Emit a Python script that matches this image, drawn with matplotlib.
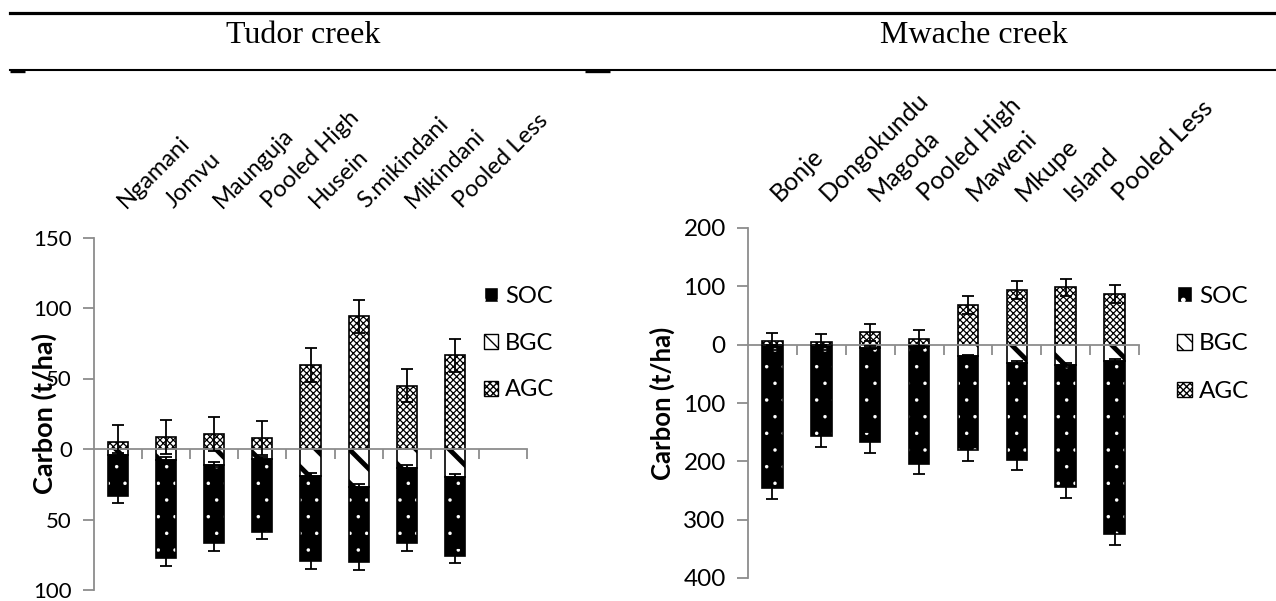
import matplotlib
matplotlib.use("Agg")
import matplotlib.pyplot as plt
import numpy as np
from matplotlib.patches import Patch
from matplotlib.lines import Line2D
from matplotlib.ticker import FuncFormatter
from matplotlib import transforms

# ---------------- data ----------------
tudor_sites = ["Ngamani", "Jomvu", "Maunguja", "Pooled High", "Husein",
               "S.mikindani", "Mikindani", "Pooled Less"]
tudor_agc = [5, 8.7, 10.6, 8, 59.8, 94, 45, 66.4]
tudor_agc_err = [11.8, 11.9, 11.8, 12, 12, 11.9, 12, 11.8]
tudor_bgc = [4, 8, 11, 7, 19, 27, 13.5, 20]
tudor_bgc_err = [1.5, 2, 2, 1.5, 2, 2.5, 2, 2]
tudor_soc = [29, 69.5, 56, 52, 60.6, 53.3, 53.5, 55.6]
tudor_soc_err = [5.3, 5.2, 5.5, 5, 5.2, 5.2, 5.5, 5.2]
tudor_yticks = [-100, -50, 0, 50, 100, 150]

mwache_sites = ["Bonje", "Dongokundu", "Magoda", "Pooled High", "Maweni",
                "Mkupe", "Island", "Pooled Less"]
mwache_agc = [5.6, 4, 21, 9.6, 68, 94, 98.6, 87]
mwache_agc_err = [14, 14, 14.5, 15, 15, 15, 14.5, 15]
mwache_bgc = [1, 1, 5, 3, 19, 31, 35, 28]
mwache_bgc_err = [1, 1, 2, 1.5, 2, 3, 3, 3]
mwache_soc = [245, 156, 162, 201, 162, 166, 209.5, 297]
mwache_soc_err = [19, 18, 18, 18.5, 19, 18, 18.5, 18.6]
mwache_yticks = [-400, -300, -200, -100, 0, 100, 200]

legend_labels = ["SOC", "BGC", "AGC"]
titles = ["Tudor creek", "Mwache creek"]

# ---------------- style ----------------
plt.rcParams['font.family'] = ['Lato', 'DejaVu Sans']
GREY = "#8c8c8c"
W, H = 1276, 601

fig = plt.figure(figsize=(W / 100, H / 100), dpi=100)


def fx(px):
    return px / W


def fy(py):
    return 1 - py / H


def set_hlw(container, lw):
    for p in container.patches:
        if hasattr(p, "set_hatch_linewidth"):
            p.set_hatch_linewidth(lw)


def draw(ax, sites, agc, agc_err, bgc, bgc_err, soc, soc_err, nslots,
         yticks, label_dy, ylab_x, fs, lab_fs, ylab_fs):
    agc = np.asarray(agc, float)
    bgc = np.asarray(bgc, float)
    soc = np.asarray(soc, float)
    x = np.arange(len(sites)) + 0.5
    w = 0.42
    with plt.rc_context({'hatch.linewidth': 0.1}):
        b = ax.bar(x, -soc, w, bottom=-bgc, color="black", edgecolor="white",
                   hatch=".", linewidth=0, zorder=2)
    set_hlw(b, 0.1)
    ax.bar(x, -soc, w, bottom=-bgc, fill=False, edgecolor="black",
           linewidth=1.2, zorder=3)
    with plt.rc_context({'hatch.linewidth': 3.5}):
        b = ax.bar(x, -bgc, w, color="white", edgecolor="black", hatch="\\",
                   linewidth=1.2, zorder=2)
    set_hlw(b, 3.5)
    with plt.rc_context({'hatch.linewidth': 0.9}):
        b = ax.bar(x, agc, w, color="white", edgecolor="black",
                   hatch="xxxxx", linewidth=1.2, zorder=2)
    set_hlw(b, 0.9)
    ekw = dict(fmt="none", ecolor="black", elinewidth=1.3, capsize=4,
               capthick=1.3, zorder=4)
    ax.errorbar(x, agc, yerr=agc_err, **ekw)
    ax.errorbar(x, -bgc, yerr=bgc_err, **ekw)
    ax.errorbar(x, -(bgc + soc), yerr=soc_err, **ekw)

    ax.set_xlim(0, nslots)
    ax.set_ylim(yticks[0], yticks[-1])
    ax.set_yticks(yticks)
    ax.yaxis.set_major_formatter(FuncFormatter(lambda v, p: f"{abs(v):g}"))
    ax.tick_params(axis="y", direction="out", length=8, width=1.3,
                   color=GREY, labelsize=fs, pad=8)
    ax.set_xticks(np.arange(1, nslots + 1))
    ax.tick_params(axis="x", direction="out", length=7, width=1.3,
                   color=GREY, labelbottom=False)
    for s in ("top", "right"):
        ax.spines[s].set_visible(False)
    ax.spines["bottom"].set_position(("data", 0))
    for s in ("left", "bottom"):
        ax.spines[s].set_color(GREY)
        ax.spines[s].set_linewidth(1.3)
    ax.set_ylabel("Carbon (t/ha)", fontsize=ylab_fs, fontweight="bold")
    ax.yaxis.set_label_coords(ylab_x, 0.5)
    tr = transforms.offset_copy(ax.get_xaxis_transform(), fig=fig,
                                x=5.5, y=0, units="points")
    for xi, name in zip(x, sites):
        ax.text(xi, 1 + label_dy, name, transform=tr,
                rotation=45, rotation_mode="anchor", ha="left",
                va="baseline", fontsize=lab_fs)


axL = fig.add_axes([fx(94), fy(590), fx(527 - 94), (590 - 237.5) / H])
draw(axL, tudor_sites, tudor_agc, tudor_agc_err, tudor_bgc, tudor_bgc_err,
     tudor_soc, tudor_soc_err, 9, tudor_yticks, 0.08, -0.085,
     16, 17, 19.5)

axR = fig.add_axes([fx(748), fy(578), fx(1139 - 748), (578 - 228) / H])
draw(axR, mwache_sites, mwache_agc, mwache_agc_err, mwache_bgc,
     mwache_bgc_err, mwache_soc, mwache_soc_err, 8, mwache_yticks, 0.075,
     -0.187, 17.5, 18, 18.5)

# legends
with plt.rc_context({'hatch.linewidth': 2.5}):
    handles = [Patch(facecolor="black", edgecolor="white", hatch="."),
               Patch(facecolor="white", edgecolor="black", hatch="\\\\"),
               Patch(facecolor="white", edgecolor="black", hatch="xxxxx")]
for (lx, ly, lfs) in [(484, 343, 17), (1177, 344, 17.5)]:
    fig.legend(handles, legend_labels, loc="center left",
               bbox_to_anchor=(fx(lx), fy(ly)), frameon=False, fontsize=lfs,
               handlelength=0.6, handleheight=0.6, handletextpad=0.3,
               labelspacing=1.1, borderpad=0, borderaxespad=0)

# header lines and titles
fig.add_artist(Line2D([fx(10), 1], [fy(12.5), fy(12.5)], lw=2.3,
                      color="black", transform=fig.transFigure))
fig.add_artist(Line2D([fx(10), 1], [fy(70), fy(70)], lw=1.5,
                      color="black", transform=fig.transFigure))
for a, b in [(10, 25), (585, 610)]:
    fig.add_artist(Line2D([fx(a), fx(b)], [fy(70.5), fy(70.5)], lw=2.4,
                          color="black", transform=fig.transFigure,
                          solid_capstyle="butt"))
fig.text(fx(303), fy(43), titles[0], ha="center", va="baseline",
         fontsize=23, family=["Liberation Serif", "DejaVu Serif"])
fig.text(fx(974), fy(43), titles[1], ha="center", va="baseline",
         fontsize=23, family=["Liberation Serif", "DejaVu Serif"])

fig.savefig("out.png", dpi=100)
